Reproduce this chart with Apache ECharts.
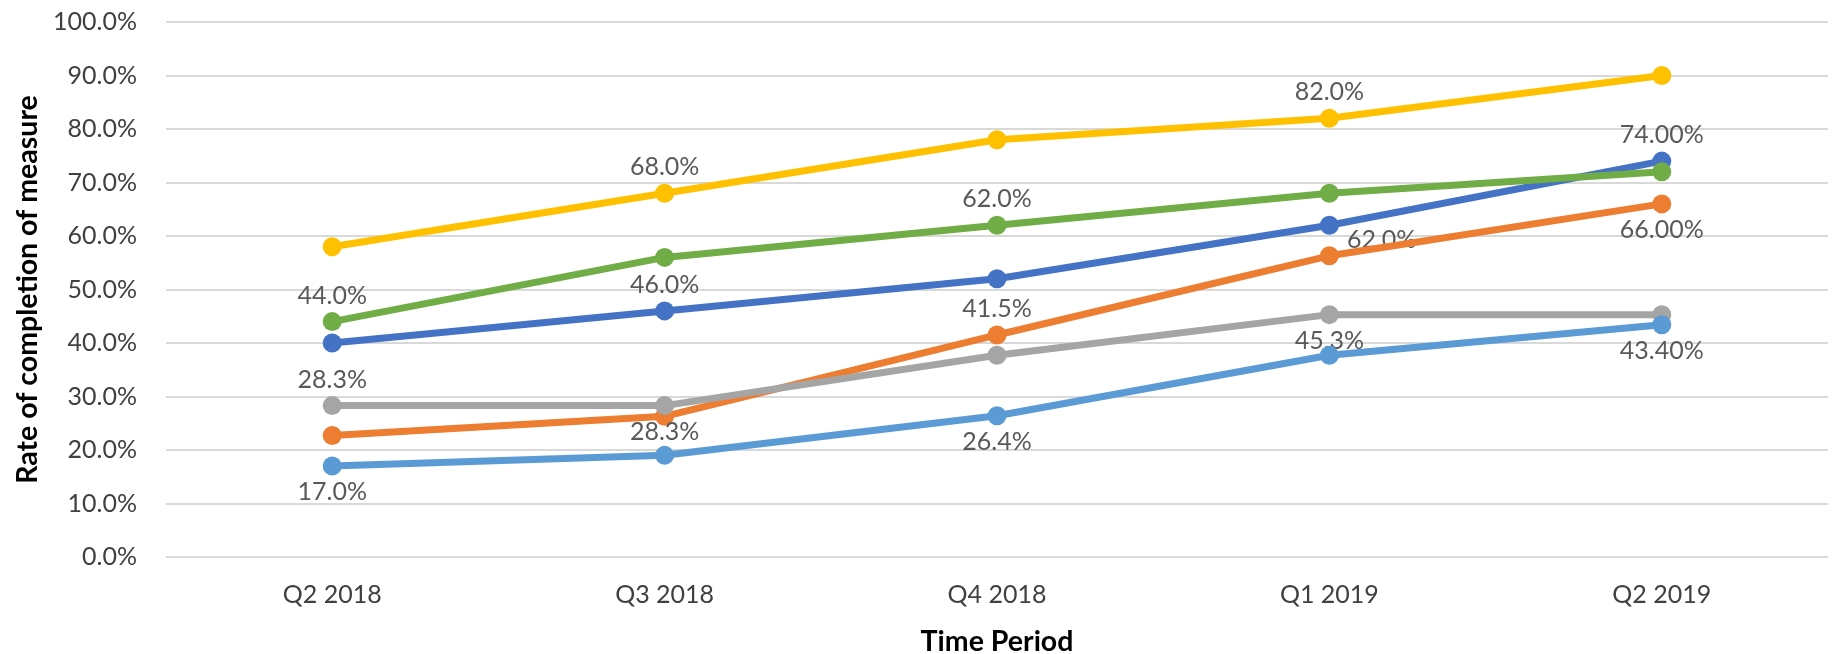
<!DOCTYPE html>
<html>
<head>
<meta charset="utf-8">
<script src="https://cdn.jsdelivr.net/npm/echarts@6/dist/echarts.min.js"></script>
<style>
html,body{margin:0;padding:0;background:#fff;}
#chart{width:1832px;height:654px;}
</style>
</head>
<body>
<div id="chart"></div>
<script>
// ---- data ----
const categories = ['Q2 2018', 'Q3 2018', 'Q4 2018', 'Q1 2019', 'Q2 2019'];
const yTickValues = [0, 10, 20, 30, 40, 50, 60, 70, 80, 90, 100];

const seriesNames = ['Series 1', 'Series 2', 'Series 3', 'Series 4', 'Series 5', 'Series 6'];
const blueValues      = [40.0, 46.0, 52.0, 62.0, 74.0];
const orangeValues    = [22.7, 26.3, 41.5, 56.3, 66.0];
const grayValues      = [28.3, 28.3, 37.7, 45.3, 45.3];
const yellowValues    = [58.0, 68.0, 78.0, 82.0, 90.0];
const lightBlueValues = [17.0, 19.0, 26.4, 37.7, 43.4];
const greenValues     = [44.0, 56.0, 62.0, 68.0, 72.0];

// data label texts (null = no label)
const blueLabels      = [null, '46.0%', null, '62.0%', '74.00%'];
const orangeLabels    = [null, null, '41.5%', null, '66.00%'];
const grayLabels      = ['28.3%', '28.3%', null, '45.3%', null];
const yellowLabels    = [null, '68.0%', null, '82.0%', null];
const lightBlueLabels = ['17.0%', null, '26.4%', null, '43.40%'];
const greenLabels     = ['44.0%', null, '62.0%', null, null];

// ---- styling ----
const FONT = 'Lato, "Liberation Sans", sans-serif';
const colors = ['#4472C4', '#ED7D31', '#A5A5A5', '#FFC000', '#5B9BD5', '#70AD47'];
const allValues = [blueValues, orangeValues, grayValues, yellowValues, lightBlueValues, greenValues];
const allLabels = [blueLabels, orangeLabels, grayLabels, yellowLabels, lightBlueLabels, greenLabels];
// label placements per series / point
const placements = [
  [null, 'top', null, {position: 'right', offset: [4, 15]}, 'top'],
  [null, null, 'top', null, 'bottom'],
  ['top', 'bottom', null, 'bottom', null],
  [null, 'top', null, 'top', null],
  ['bottom', null, 'bottom', null, 'bottom'],
  ['top', null, 'top', null, null]
];

const series = allValues.map((vals, si) => ({
  name: seriesNames[si],
  type: 'line',
  data: vals.map((v, i) => {
    const txt = allLabels[si][i];
    const item = {value: v};
    if (txt) {
      const p = placements[si][i];
      const lab = {show: true, formatter: txt};
      if (typeof p === 'string') lab.position = p;
      else Object.assign(lab, p);
      item.label = lab;
    }
    return item;
  }),
  symbol: 'circle',
  symbolSize: 19,
  lineStyle: {width: 7, color: colors[si]},
  itemStyle: {color: colors[si]},
  label: {show: false, fontFamily: FONT, fontSize: 25, color: '#595959', distance: 4},
  z: 2 + si,
  animation: false
}));

const chart = echarts.init(document.getElementById('chart'));
chart.setOption({
  animation: false,
  grid: {left: 166, right: 4, top: 22, bottom: 97, containLabel: false, outerBoundsMode: 'none'},
  xAxis: {
    type: 'category',
    data: categories,
    boundaryGap: true,
    axisLine: {show: false},
    axisTick: {show: false},
    axisLabel: {fontFamily: FONT, fontSize: 25, color: '#404040', margin: 25},
    name: 'Time Period',
    nameLocation: 'middle',
    nameGap: 70,
    nameTextStyle: {fontFamily: FONT, fontSize: 28.5, fontWeight: 'bold', color: '#000'}
  },
  yAxis: {
    type: 'value',
    min: yTickValues[0],
    max: yTickValues[yTickValues.length - 1],
    interval: yTickValues[1] - yTickValues[0],
    axisLine: {show: false},
    axisTick: {show: false},
    splitLine: {lineStyle: {color: '#D9D9D9', width: 2}},
    axisLabel: {fontFamily: FONT, fontSize: 25, color: '#404040', margin: 29,
      formatter: v => v.toFixed(1) + '%'},
    name: 'Rate of completion of measure',
    nameLocation: 'middle',
    nameGap: 122,
    nameRotate: 90,
    nameTextStyle: {fontFamily: FONT, fontSize: 28.5, fontWeight: 'bold', color: '#000'}
  },
  series: series
});
</script>
</body>
</html>
